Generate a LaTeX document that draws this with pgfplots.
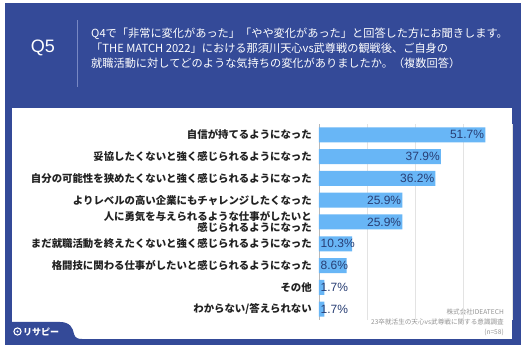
\documentclass[border=0pt]{standalone}
\usepackage{pgfplots}
\pgfplotsset{compat=1.18}
\usepackage{pgfplotstable}
\usepackage{fontspec}
\setmainfont{Liberation Sans}
\newfontfamily\jp{Noto Sans CJK JP}
\definecolor{frameblue}{RGB}{52,74,152}
\definecolor{barblue}{RGB}{104,182,246}
\definecolor{valtext}{RGB}{40,62,116}
\definecolor{divider}{RGB}{120,136,196}
\definecolor{labtext}{RGB}{34,34,34}

\pgfplotstableread{
y val
0 51.7
1 37.9
2 36.2
3 25.9
4 25.9
5 10.3
6 8.6
7 1.7
8 1.7
}\bars
\pgfplotstableread{
y val
0 51.7
1 37.9
2 36.2
3 25.9
4 25.9
}\longlab
\pgfplotstableread{
y labx val
5 0 10.3
6 0 8.6
7 0 1.7
8 0 1.7
}\shortlab

\begin{document}
\begin{tikzpicture}[x=1pt,y=1pt]
\useasboundingbox (0,0) rectangle (523,353);
\fill[white] (0,0) rectangle (523,353);
\fill[frameblue] (5,8) rectangle (521,350);
\fill[white] (12,14) rectangle (512,245);
% tab
\fill[frameblue] (12,14) -- (12,31) -- (60,31) .. controls (70,31) and (73,25) .. (74,19) .. controls (75,15) and (78,14) .. (82,14) -- cycle;
\draw[white, line width=1.1pt] (17.5,21.5) circle (3.6);
\fill[white] (17.5,21.5) circle (1.2);
\node[anchor=west, text=white, inner sep=0pt, font=\jp\bfseries\fontsize{9}{9}\selectfont] at (23,21) {リサピー};
% header
\node[text=white, inner sep=0pt, font=\fontsize{18}{18}\selectfont] at (43,305) {Q5};
\draw[divider, line width=0.8pt] (77,333) -- (77,266);
\node[anchor=west, text=white, align=left, inner sep=0pt, font=\jp\fontsize{11.2}{15}\selectfont] at (91,305) {Q4で「非常に変化があった」「やや変化があった」と回答した方にお聞きします。\\「THE MATCH 2022」における那須川天心vs武尊戦の観戦後、ご自身の\\就職活動に対してどのような気持ちの変化がありましたか。（複数回答）};
% source
\node[anchor=east, text=gray!85, align=right, inner sep=0pt, font=\jp\fontsize{6.6}{10}\selectfont] at (504,31) {株式会社IDEATECH\\23卒就活生の天心vs武尊戦に関する意識調査\\(n=58)};

\begin{axis}[
  at={(319pt,33pt)}, anchor=south west,
  scale only axis, width=193pt, height=196pt,
  xmin=0, xmax=60, ymin=-0.5, ymax=8.5, y dir=reverse,
  bar width=15pt,
  axis line style={draw=none},
  tick style={draw=none},
  xtick={15,30,45,60}, xticklabels={},
  xmajorgrids, major grid style={gray!22, line width=0.6pt},
  extra x ticks={0}, extra x tick labels={},
  extra x tick style={grid=major, major grid style={gray!55, line width=0.8pt}},
  ytick={0,1,2,3,4,5,6,7,8},
  yticklabels={自信が持てるようになった,妥協したくないと強く感じられるようになった,自分の可能性を狭めたくないと強く感じられるようになった,よりレベルの高い企業にもチャレンジしたくなった,{人に勇気を与えられるような仕事がしたいと\\感じられるようになった},まだ就職活動を終えたくないと強く感じられるようになった,格闘技に関わる仕事がしたいと感じられるようになった,その他,わからない/答えられない},
  yticklabel style={font=\jp\bfseries\fontsize{10.4}{11}\selectfont, text=labtext, align=right, inner sep=0pt, xshift=-7pt},
  /pgf/number format/assume math mode=true,
  clip=false,
]
\addplot[xbar, fill=barblue, draw=none] table[x=val, y=y]{\bars};
\addplot[draw=none, mark=none, nodes near coords={\pgfmathprintnumber[fixed, precision=1, fixed zerofill, assume math mode=true]{\pgfplotspointmeta}\%}, point meta=x, nodes near coords style={anchor=east, inner sep=1pt, text=valtext, font=\fontsize{12}{12}\selectfont}] table[x=val, y=y]{\longlab};
\addplot[draw=none, mark=none, nodes near coords={\pgfmathprintnumber[fixed, precision=1, fixed zerofill, assume math mode=true]{\pgfplotspointmeta}\%}, point meta=explicit, nodes near coords style={anchor=west, inner sep=1.5pt, text=valtext, font=\fontsize{12}{12}\selectfont}] table[x=labx, y=y, meta=val]{\shortlab};
\end{axis}
\end{tikzpicture}
\end{document}
